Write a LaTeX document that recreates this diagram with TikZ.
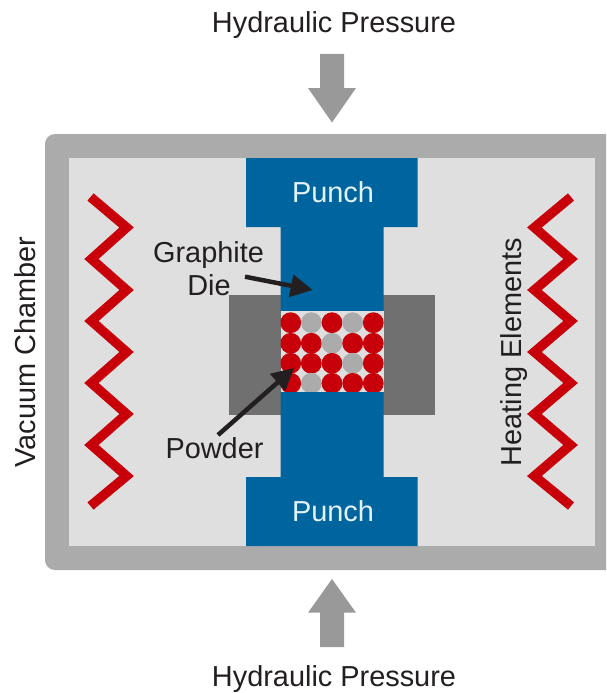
\documentclass[tikz,border=0pt]{standalone}
\usepackage{fontspec}
\setmainfont{Liberation Sans}
\usetikzlibrary{arrows.meta}
\definecolor{frameg}{HTML}{ABABAB}
\definecolor{innerg}{HTML}{DFDFDF}
\definecolor{punchb}{HTML}{00659E}
\definecolor{dieg}{HTML}{707070}
\definecolor{heatr}{HTML}{C8000A}
\definecolor{arrowg}{HTML}{999999}
\definecolor{inkk}{HTML}{231F20}
\definecolor{punchtext}{HTML}{E4F3FA}
\tikzset{
  lbl/.style={text=inkk,inner sep=0pt,anchor=base,align=center,font=\fontsize{28.9}{33}\selectfont},
  punchlbl/.style={lbl,text=punchtext},
  heater/.style={draw=heatr,line width=9.5pt,miter limit=10,line join=miter},
  pointer/.style={draw=inkk,line width=4.5pt,-{Triangle[length=22pt,width=22pt]}},
  bigarrow/.style={fill=arrowg},
  redball/.style={fill=heatr},
  greyball/.style={fill=frameg}
}
\begin{document}
\begin{tikzpicture}[x=1pt,y=-1pt]
\useasboundingbox (0,0) rectangle (606,693);
\fill[white] (0,0) rectangle (606,693);
% chamber
\fill[frameg,rounded corners=10pt] (606,134) -- (45,134) -- (45,570) -- (606,570);
\fill[frameg] (590,134) rectangle (606,570);
\fill[innerg] (69.3,157.5) rectangle (595,546);
% die
\fill[dieg] (229,294.7) rectangle (435,415);
% punches
\fill[punchb] (246,158) -- (417.7,158) -- (417.7,227) -- (383.7,227) -- (383.7,311) -- (280.5,311) -- (280.5,227) -- (246,227) -- cycle;
\fill[punchb] (246,546) -- (417.7,546) -- (417.7,477) -- (383.7,477) -- (383.7,391.7) -- (280.5,391.7) -- (280.5,477) -- (246,477) -- cycle;
% powder
\fill[innerg] (280.5,311) rectangle (383.7,391.7);
\begin{scope}
\clip (280.5,311) rectangle (383.7,391.7);
\foreach \px/\py/\st in {
 290.7/322.7/redball, 311.3/322.7/greyball, 332/322.7/redball, 352.7/322.7/greyball, 373.3/322.7/redball,
 290.7/343.3/redball, 311.3/343.3/redball, 332/343.3/greyball, 352.7/343.3/redball, 373.3/343.3/redball,
 290.7/363.3/redball, 311.3/363.3/redball, 332/363.3/redball, 352.7/363.3/greyball, 373.3/363.3/redball,
 290.7/383.3/redball, 311.3/383.3/greyball, 332/383.3/redball, 352.7/383.3/redball, 373.3/383.3/redball}
  \fill[\st] (\px,\py) circle[radius=10.4pt];
\end{scope}
% heaters
\draw[heater] (90.5,197) -- (126.6,227.5) -- (91.4,259) -- (126.6,290) -- (91.4,321) -- (126.6,352) -- (91.4,383) -- (126.6,414) -- (91.4,445) -- (126.6,476) -- (90.5,506);
\draw[heater] (571,197) -- (534.4,227.5) -- (570.6,259) -- (534.4,290) -- (570.6,321) -- (534.4,352) -- (570.6,383) -- (534.4,414) -- (570.6,445) -- (534.4,476) -- (571,506);
% pressure arrows
\fill[bigarrow] (320,54) -- (344,54) -- (344,88) -- (356,88) -- (332,122.5) -- (308,88) -- (320,88) -- cycle;
\fill[bigarrow] (320,647) -- (344,647) -- (344,612.7) -- (356,612.7) -- (332,579) -- (308,612.7) -- (320,612.7) -- cycle;
% labels
\node[lbl] (hptop) at (334,33) {Hydraulic Pressure};
\node[lbl] (hpbot) at (334,686) {Hydraulic Pressure};
\node[punchlbl] (punchtop) at (333,202) {Punch};
\node[punchlbl] (punchbot) at (333,521) {Punch};
\node[lbl] (graphite) at (208.5,262) {Graphite};
\node[lbl] (die) at (209,295) {Die};
\node[lbl] (powder) at (214.5,458) {Powder};
\node[lbl,rotate=90] (vacuum) at (35,352) {Vacuum Chamber};
\node[lbl,rotate=90] (heating) at (521.7,352) {Heating Elements};
% pointers
\coordinate (diestart) at (245,276.7);
\coordinate (dietip) at (312.7,290);
\coordinate (powstart) at (218,435);
\coordinate (powtip) at (294,368);
\draw[pointer] (diestart) -- (dietip);
\draw[pointer] (powstart) -- (powtip);
\end{tikzpicture}
\end{document}
